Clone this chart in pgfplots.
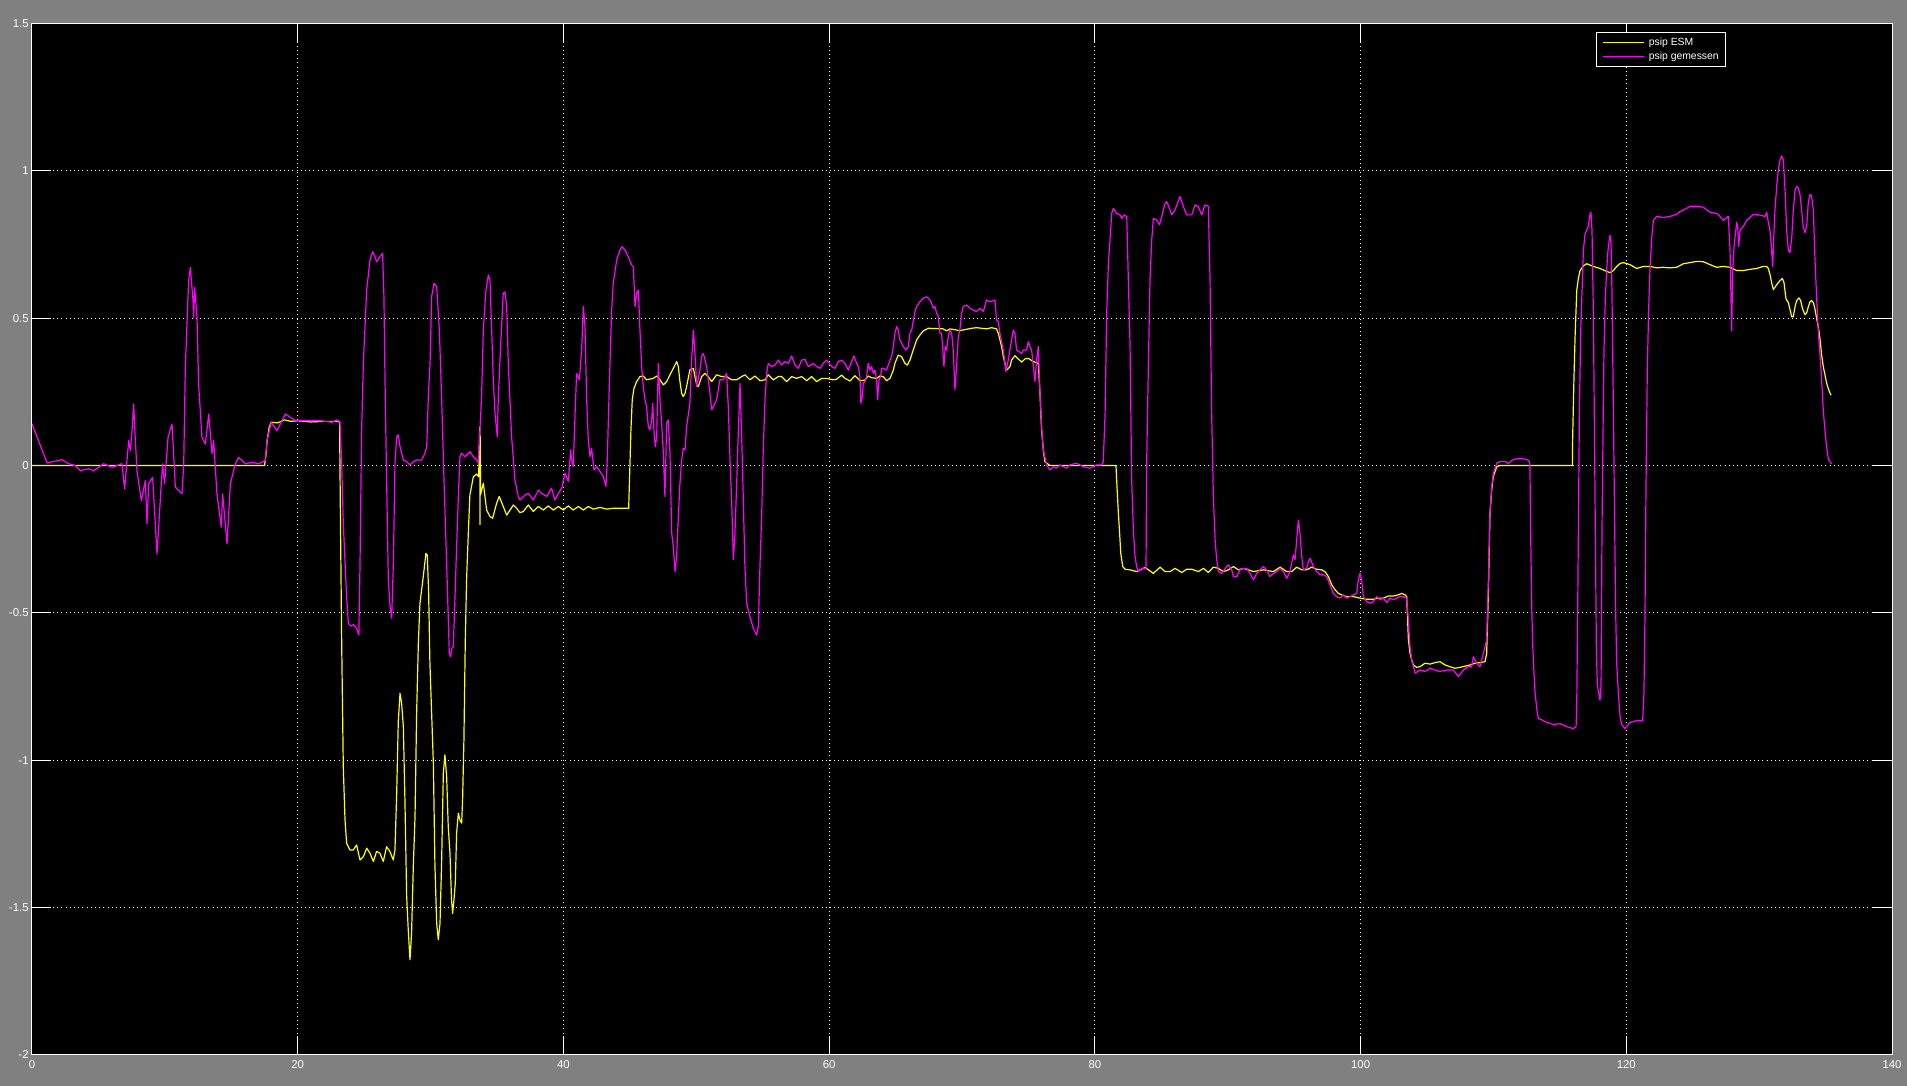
\documentclass[border=0pt]{standalone}
\usepackage{fontspec}
\setmainfont{Liberation Sans}
\usepackage{pgfplots}
\pgfplotsset{compat=1.18}
\definecolor{bg}{RGB}{128,128,128}
\definecolor{esm}{RGB}{255,255,0}
\definecolor{mes}{RGB}{255,0,255}
\begin{document}
\begin{tikzpicture}
\fill[bg] (0,0) rectangle (953.5pt,543pt);
\path[use as bounding box] (0,0) rectangle (953.5pt,543pt);
\begin{axis}[
  at={(16pt,15.65pt)}, anchor=south west,
  scale only axis, width=930pt, height=515.5pt,
  xmin=0, xmax=140, ymin=-2, ymax=1.5,
  axis background/.style={fill=black},
  axis line style={white, line width=0.5pt},
  xtick={0,20,40,60,80,100,120,140},
  ytick={-2,-1.5,-1,-0.5,0,0.5,1,1.5},
  xticklabels={0,20,40,60,80,100,120,140},
  yticklabels={-2,-1.5,-1,-0.5,0,0.5,1,1.5},
  tick align=inside, major tick length=9.5pt,
  tick style={white, line width=0.5pt},
  grid=major,
  major grid style={white, line width=0.5pt, dash pattern=on 0.5pt off 1.6pt},
  ticklabel style={text=white, font=\fontsize{5.7}{6.5}\selectfont, inner sep=0pt},
  xticklabel style={yshift=-2.6pt},
  yticklabel style={xshift=-1.5pt},
  legend cell align=left,
  legend style={at={(0.8407,0.9922)}, anchor=north west, draw=white, line width=0.5pt,
    fill=black, text=white, font=\fontsize{5.2}{6.2}\selectfont,
    inner xsep=3.3pt, inner ysep=2.6pt, row sep=2.2pt, column sep=2.2pt,
    nodes={inner sep=0pt, text height=3.8pt, text depth=1.1pt}},
  legend image code/.code={\draw[#1, line width=0.5pt] (0pt,0pt) -- (20.3pt,0pt);},
]
\addplot[esm, line width=0.6pt, line join=round] table {
x y
0 0
17.50 0
17.60 0.03
17.70 0.085
17.85 0.13
18.0 0.147
18.5 0.145
19.0 0.155
19.5 0.150
20.0 0.152
21.0 0.148
22.0 0.150
23.0 0.150
23.15 0.149
23.22 -0.2
23.31 -0.603
23.43 -1.022
23.56 -1.203
23.68 -1.282
23.93 -1.305
24.18 -1.305
24.43 -1.288
24.69 -1.339
24.94 -1.328
25.19 -1.299
25.44 -1.316
25.69 -1.344
25.94 -1.310
26.19 -1.316
26.44 -1.344
26.69 -1.294
26.94 -1.310
27.19 -1.339
27.32 -1.305
27.45 -1.112
27.57 -0.869
27.70 -0.773
27.82 -0.807
27.95 -0.886
28.07 -1.135
28.20 -1.463
28.32 -1.576
28.45 -1.678
28.57 -1.588
28.70 -1.361
28.83 -1.192
28.95 -0.841
29.08 -0.603
29.20 -0.468
29.45 -0.377
29.65 -0.298
29.75 -0.304
29.85 -0.422
29.95 -0.671
30.08 -0.841
30.21 -1.011
30.33 -1.361
30.46 -1.554
30.58 -1.610
30.71 -1.554
30.83 -1.350
30.96 -1.045
31.08 -0.982
31.21 -1.056
31.33 -1.226
31.46 -1.316
31.58 -1.475
31.66 -1.520
31.76 -1.475
31.86 -1.418
31.96 -1.248
32.09 -1.180
32.21 -1.203
32.34 -1.214
32.41 -1.135
32.51 -0.931
32.61 -0.603
32.71 -0.388
32.84 -0.230
32.96 -0.100
33.22 -0.038
33.47 -0.029
33.62 -0.038
33.70 0.13
33.72 -0.20
33.74 0.10
33.76 -0.10
33.97 -0.060
34.22 -0.151
34.47 -0.173
34.67 -0.179
34.97 -0.128
35.17 -0.105
35.47 -0.139
35.73 -0.168
35.98 -0.151
36.23 -0.134
36.48 -0.145
36.73 -0.160
36.98 -0.156
37.36 -0.134
37.73 -0.156
38.11 -0.139
38.49 -0.151
38.86 -0.137
39.24 -0.151
39.62 -0.139
39.99 -0.151
40.37 -0.137
40.74 -0.151
41.12 -0.139
41.50 -0.151
41.87 -0.139
42.25 -0.148
42.75 -0.142
43.25 -0.148
43.75 -0.145
44.91 -0.145
45.01 0.008
45.08 0.121
45.18 0.223
45.31 0.262
45.51 0.285
45.76 0.302
46.01 0.304
46.26 0.291
46.76 0.296
47.02 0.304
47.27 0.291
47.52 0.274
47.77 0.285
48.02 0.308
48.27 0.330
48.52 0.353
48.65 0.336
48.77 0.285
48.90 0.245
49.02 0.234
49.15 0.245
49.27 0.268
49.52 0.325
49.78 0.330
49.90 0.302
50.03 0.274
50.15 0.268
50.40 0.302
50.65 0.313
50.90 0.302
51.16 0.285
51.53 0.308
51.91 0.302
52.28 0.302
52.66 0.291
53.04 0.291
53.41 0.302
53.66 0.308
54.04 0.291
54.42 0.304
54.79 0.288
55.17 0.291
55.42 0.308
55.80 0.291
56.17 0.302
56.42 0.302
56.80 0.285
57.18 0.302
57.55 0.296
57.93 0.302
58.31 0.288
58.68 0.302
59.06 0.285
59.44 0.296
59.81 0.296
60.31 0.291
60.56 0.293
60.94 0.307
61.19 0.296
61.57 0.287
61.94 0.305
62.32 0.288
62.69 0.290
62.94 0.304
63.20 0.298
63.57 0.296
63.82 0.304
64.07 0.302
64.32 0.288
64.58 0.296
64.83 0.324
64.95 0.347
65.20 0.375
65.45 0.370
65.70 0.347
65.88 0.341
66.08 0.358
66.33 0.392
66.58 0.426
66.83 0.443
67.08 0.457
67.46 0.466
68.09 0.465
68.59 0.464
68.84 0.457
69.09 0.464
69.84 0.458
70.72 0.466
71.10 0.468
71.85 0.464
72.23 0.468
72.60 0.464
72.73 0.449
72.98 0.404
73.11 0.370
73.36 0.324
73.61 0.336
73.73 0.358
73.98 0.373
74.23 0.362
74.49 0.351
74.74 0.362
74.99 0.364
75.36 0.353
75.74 0.347
75.87 0.245
75.99 0.121
76.12 0.053
76.24 0.013
76.62 0.0
81.59 0.0
81.64 -0.049
81.77 -0.162
81.85 -0.219
81.95 -0.298
82.10 -0.343
82.27 -0.352
82.65 -0.354
83.15 -0.360
83.40 -0.354
83.78 -0.346
84.03 -0.354
84.40 -0.366
84.91 -0.345
85.28 -0.360
85.66 -0.360
86.03 -0.349
86.54 -0.363
86.91 -0.352
87.29 -0.352
87.79 -0.360
88.17 -0.349
88.54 -0.363
88.92 -0.345
89.30 -0.349
89.67 -0.360
90.05 -0.354
90.43 -0.343
90.80 -0.354
91.18 -0.349
91.55 -0.354
91.93 -0.360
92.68 -0.354
93.44 -0.360
93.94 -0.345
94.44 -0.360
94.82 -0.360
95.19 -0.345
95.57 -0.354
95.94 -0.354
96.32 -0.345
96.70 -0.352
97.07 -0.354
97.32 -0.360
97.58 -0.377
97.83 -0.405
98.08 -0.422
98.33 -0.434
98.58 -0.439
98.95 -0.445
99.46 -0.445
99.96 -0.450
100.46 -0.454
100.96 -0.454
101.34 -0.450
101.71 -0.450
102.09 -0.443
102.47 -0.443
102.84 -0.439
103.10 -0.434
103.35 -0.439
103.47 -0.445
103.60 -0.592
103.72 -0.637
103.85 -0.660
103.97 -0.677
104.22 -0.685
104.47 -0.683
104.85 -0.671
105.23 -0.674
105.60 -0.669
105.98 -0.666
106.36 -0.677
106.73 -0.683
107.11 -0.688
107.49 -0.685
107.86 -0.681
108.24 -0.677
108.61 -0.671
108.99 -0.669
109.37 -0.666
109.49 -0.637
109.62 -0.434
109.74 -0.162
109.87 -0.083
109.99 -0.037
110.25 -0.004
110.50 0.0
115.94 0.0
115.96 0.089
116.06 0.294
116.14 0.430
116.27 0.594
116.39 0.635
116.52 0.662
116.77 0.678
117.02 0.685
117.52 0.676
118.02 0.669
118.52 0.659
118.77 0.655
119.03 0.662
119.28 0.676
119.53 0.686
119.78 0.689
120.28 0.682
120.78 0.669
121.28 0.676
121.78 0.676
122.29 0.671
122.79 0.673
123.29 0.671
123.79 0.673
124.29 0.685
124.80 0.689
125.30 0.693
125.80 0.692
126.30 0.682
126.80 0.673
127.30 0.676
127.81 0.673
128.31 0.662
128.81 0.662
129.31 0.666
129.81 0.669
130.31 0.676
130.57 0.676
130.69 0.669
130.82 0.648
130.94 0.621
131.07 0.597
131.32 0.614
131.57 0.628
131.75 0.635
131.87 0.621
132.02 0.566
132.20 0.553
132.45 0.505
132.57 0.505
132.70 0.539
132.82 0.560
133.00 0.569
133.12 0.560
133.27 0.532
133.45 0.512
133.58 0.519
133.70 0.539
133.83 0.556
133.95 0.560
134.08 0.553
134.20 0.532
134.33 0.498
134.45 0.471
134.58 0.430
134.70 0.376
134.83 0.335
134.96 0.307
135.08 0.280
135.21 0.260
135.33 0.246
135.41 0.239
};
\addlegendentry{psip ESM}
\addplot[mes, line width=0.6pt, line join=round] table {
x y
0 0.142
1.13 0.009
2.26 0.02
2.76 0.006
3.26 0.0
3.64 -0.017
4.26 -0.011
4.64 -0.017
5.39 0.006
6.02 -0.006
6.77 0.006
6.97 -0.08
7.15 0.017
7.28 0.085
7.40 0.051
7.53 0.119
7.65 0.209
7.73 0.130
7.90 -0.017
8.23 -0.119
8.53 -0.051
8.66 -0.198
8.78 -0.062
9.08 -0.040
9.41 -0.300
9.73 -0.062
9.83 0.006
9.98 -0.062
10.24 0.096
10.54 0.141
10.79 -0.073
11.29 -0.096
11.42 0.006
11.54 0.334
11.79 0.628
11.92 0.673
12.12 0.560
12.17 0.503
12.24 0.605
12.42 0.503
12.54 0.277
12.79 0.096
13.05 0.073
13.30 0.175
13.55 0.040
13.67 0.085
13.92 -0.096
14.25 -0.209
14.35 -0.096
14.68 -0.266
14.93 -0.062
15.30 0.006
15.55 0.028
16.06 0.006
16.56 0.011
17.06 0.006
17.56 0.017
17.69 0.085
18.01 0.147
18.44 0.119
19.07 0.175
19.82 0.153
20.57 0.153
21.58 0.153
22.58 0.147
22.93 0.155
23.18 0.149
23.31 0.008
23.43 -0.196
23.68 -0.445
23.81 -0.535
24.0 -0.545
24.2 -0.54
24.4 -0.55
24.6 -0.575
24.69 -0.332
24.81 0.121
24.94 0.347
25.19 0.596
25.44 0.698
25.64 0.726
25.82 0.709
25.94 0.692
26.19 0.709
26.39 0.721
26.49 0.573
26.57 0.291
26.69 -0.049
26.82 -0.388
26.95 -0.479
27.07 -0.518
27.20 -0.332
27.32 0.008
27.45 0.098
27.57 0.104
27.70 0.064
27.95 0.019
28.20 0.013
28.45 0.002
28.70 0.013
28.95 0.019
29.33 0.019
29.58 0.042
29.71 0.064
29.83 0.234
29.96 0.347
30.08 0.573
30.26 0.619
30.46 0.607
30.66 0.460
30.83 0.234
31.01 -0.049
31.21 -0.332
31.41 -0.637
31.51 -0.649
31.61 -0.62
31.71 -0.615
31.84 -0.445
31.96 -0.275
32.09 -0.105
32.21 0.030
32.34 0.042
32.59 0.030
32.97 0.047
33.22 0.030
33.47 0.019
33.59 0.008
33.72 0.126
33.84 0.234
33.97 0.460
34.17 0.596
34.35 0.647
34.47 0.630
34.60 0.460
34.72 0.291
34.85 0.177
35.02 0.098
35.10 0.234
35.27 0.404
35.47 0.585
35.60 0.590
35.73 0.539
35.85 0.347
36.10 0.098
36.35 -0.049
36.60 -0.105
36.73 -0.117
37.11 -0.100
37.36 -0.094
37.73 -0.117
38.11 -0.083
38.36 -0.094
38.74 -0.105
39.11 -0.077
39.36 -0.117
39.62 -0.094
39.87 -0.077
40.12 -0.026
40.37 -0.054
40.54 0.053
40.62 0.019
40.74 -0.003
40.87 0.166
40.99 0.313
41.20 0.291
41.37 0.392
41.50 0.540
41.62 0.472
41.75 0.223
41.87 0.087
42.00 0.030
42.12 0.059
42.30 -0.015
42.50 -0.003
42.75 -0.020
43.00 -0.037
43.20 -0.071
43.30 0.019
43.45 0.268
43.63 0.528
43.75 0.619
44.01 0.698
44.26 0.732
44.41 0.743
44.63 0.732
44.88 0.709
45.13 0.681
45.26 0.675
45.39 0.540
45.51 0.585
45.64 0.596
45.76 0.460
45.89 0.336
46.01 0.268
46.14 0.223
46.26 0.200
46.39 0.132
46.51 0.121
46.64 0.155
46.72 0.211
46.82 0.110
46.92 0.064
47.02 0.098
47.14 0.347
47.27 0.223
47.39 0.144
47.52 0.042
47.64 -0.105
47.77 0.144
47.89 0.155
48.02 0.042
48.15 -0.230
48.27 -0.275
48.40 -0.360
48.52 -0.309
48.65 -0.173
48.77 -0.060
48.90 0.019
49.02 0.059
49.15 0.053
49.27 0.132
49.52 0.211
49.65 0.358
49.78 0.460
49.90 0.381
50.03 0.268
50.28 0.325
50.40 0.370
50.53 0.381
50.78 0.336
51.03 0.245
51.16 0.189
51.28 0.200
51.53 0.223
51.78 0.291
52.03 0.291
52.28 0.313
52.41 0.200
52.54 0.019
52.66 -0.117
52.79 -0.320
52.91 -0.230
53.04 -0.060
53.16 0.110
53.29 0.279
53.41 0.110
53.54 -0.117
53.66 -0.343
53.79 -0.467
54.04 -0.513
54.29 -0.552
54.54 -0.575
54.67 -0.547
54.79 -0.343
54.92 -0.173
55.04 0.053
55.17 0.223
55.30 0.313
55.42 0.347
55.67 0.336
55.92 0.341
56.17 0.358
56.42 0.341
56.67 0.353
56.93 0.347
57.18 0.372
57.43 0.341
57.68 0.330
57.93 0.358
58.18 0.361
58.43 0.336
58.81 0.347
59.06 0.336
59.31 0.330
59.56 0.347
59.81 0.358
60.19 0.336
60.44 0.330
60.69 0.353
60.94 0.358
61.19 0.347
61.44 0.324
61.69 0.353
61.87 0.372
62.07 0.347
62.19 0.336
62.32 0.302
62.39 0.211
62.49 0.234
62.57 0.279
62.69 0.285
62.82 0.302
62.94 0.347
63.07 0.324
63.20 0.336
63.32 0.313
63.45 0.324
63.57 0.291
63.65 0.223
63.75 0.291
63.87 0.302
63.95 0.330
64.07 0.330
64.32 0.324
64.58 0.358
64.70 0.370
64.83 0.404
64.95 0.449
65.08 0.472
65.20 0.460
65.33 0.426
65.58 0.404
65.78 0.392
65.96 0.404
66.08 0.449
66.21 0.460
66.33 0.489
66.46 0.522
66.58 0.540
66.83 0.556
67.08 0.568
67.34 0.573
67.59 0.562
67.71 0.551
67.84 0.534
67.96 0.540
68.09 0.517
68.21 0.506
68.34 0.449
68.46 0.449
68.54 0.404
68.64 0.336
68.74 0.404
68.84 0.392
68.97 0.438
69.09 0.460
69.22 0.449
69.34 0.392
69.47 0.257
69.59 0.336
69.72 0.438
69.84 0.460
69.97 0.517
70.09 0.540
70.35 0.545
70.60 0.534
70.85 0.528
71.10 0.523
71.35 0.534
71.60 0.523
71.85 0.562
72.10 0.556
72.35 0.560
72.48 0.562
72.60 0.494
72.73 0.489
72.85 0.449
73.11 0.392
73.31 0.319
73.48 0.358
73.73 0.426
73.86 0.460
73.98 0.449
74.11 0.392
74.49 0.381
74.61 0.392
74.86 0.392
74.99 0.421
75.11 0.404
75.24 0.392
75.36 0.341
75.49 0.285
75.61 0.358
75.74 0.404
75.87 0.245
75.99 0.132
76.12 0.053
76.37 0.002
76.62 -0.015
76.87 -0.004
77.12 -0.009
77.37 0.002
77.62 -0.004
77.87 -0.009
78.12 0.002
78.62 0.008
79.13 -0.004
79.63 -0.009
80.13 0.002
80.51 0.002
80.63 0.013
80.77 0.177
80.89 0.517
81.02 0.687
81.14 0.766
81.27 0.856
81.39 0.873
81.64 0.856
81.90 0.851
82.02 0.839
82.20 0.851
82.40 0.845
82.52 0.630
82.65 0.404
82.77 -0.049
82.90 -0.219
83.02 -0.309
83.15 -0.343
83.28 -0.360
83.53 -0.349
83.85 -0.349
83.90 0.008
84.03 0.347
84.15 0.630
84.28 0.766
84.40 0.839
84.65 0.834
84.86 0.817
85.03 0.845
85.28 0.890
85.41 0.896
85.66 0.868
85.78 0.851
86.03 0.868
86.41 0.913
86.66 0.879
86.91 0.851
87.29 0.851
87.54 0.885
87.79 0.879
88.04 0.851
88.29 0.885
88.54 0.881
88.67 0.630
88.79 0.177
88.92 -0.105
89.05 -0.252
89.17 -0.320
89.30 -0.360
89.55 -0.366
89.92 -0.343
90.05 -0.337
90.30 -0.354
90.43 -0.377
90.68 -0.377
90.93 -0.354
91.18 -0.349
91.43 -0.349
91.68 -0.366
91.93 -0.388
92.18 -0.366
92.43 -0.354
92.68 -0.343
92.93 -0.354
93.18 -0.377
93.44 -0.366
93.69 -0.360
93.94 -0.349
94.19 -0.360
94.44 -0.383
94.69 -0.360
94.94 -0.303
95.07 -0.320
95.19 -0.252
95.32 -0.185
95.44 -0.230
95.57 -0.309
95.69 -0.354
95.94 -0.349
96.07 -0.326
96.20 -0.315
96.45 -0.343
96.70 -0.360
96.95 -0.371
97.20 -0.371
97.45 -0.377
97.70 -0.405
97.95 -0.434
98.20 -0.445
98.45 -0.450
98.70 -0.439
98.95 -0.450
99.21 -0.445
99.46 -0.439
99.71 -0.434
99.83 -0.388
99.96 -0.366
100.08 -0.388
100.21 -0.445
100.46 -0.462
100.71 -0.467
100.96 -0.462
101.21 -0.445
101.46 -0.456
101.71 -0.450
101.97 -0.465
102.22 -0.450
102.47 -0.456
102.72 -0.450
102.97 -0.445
103.22 -0.445
103.47 -0.450
103.60 -0.524
103.72 -0.615
103.85 -0.660
104.10 -0.705
104.47 -0.694
104.85 -0.699
105.23 -0.688
105.60 -0.694
105.98 -0.699
106.48 -0.694
106.98 -0.694
107.36 -0.716
107.74 -0.694
108.11 -0.683
108.36 -0.683
108.49 -0.649
108.74 -0.671
108.99 -0.683
109.12 -0.660
109.37 -0.615
109.49 -0.592
109.62 -0.388
109.74 -0.162
109.87 -0.071
109.99 -0.026
110.25 0.008
110.50 0.014
110.87 0.014
111.12 0.007
111.50 0.021
112.00 0.024
112.50 0.021
112.70 0.014
112.75 -0.006
112.80 -0.224
112.88 -0.470
112.95 -0.606
113.05 -0.702
113.13 -0.770
113.26 -0.825
113.38 -0.859
113.63 -0.863
114.01 -0.872
114.51 -0.879
115.01 -0.876
115.51 -0.886
116.01 -0.893
116.22 -0.886
116.27 -0.811
116.34 -0.497
116.42 -0.088
116.47 0.185
116.57 0.457
116.67 0.594
116.77 0.730
116.89 0.785
117.14 0.812
117.27 0.853
117.34 0.860
117.42 0.798
117.52 0.526
117.59 0.185
117.67 -0.224
117.75 -0.634
117.82 -0.743
118.02 -0.797
118.10 -0.743
118.17 -0.224
118.25 0.116
118.32 0.389
118.42 0.566
118.52 0.662
118.62 0.730
118.77 0.782
118.85 0.757
118.92 0.594
119.03 0.185
119.13 -0.224
119.20 -0.497
119.28 -0.674
119.40 -0.770
119.53 -0.852
119.65 -0.879
119.90 -0.893
120.28 -0.872
120.78 -0.866
121.23 -0.866
121.33 -0.770
121.41 -0.497
121.48 -0.088
121.58 0.321
121.68 0.526
121.78 0.662
121.91 0.771
122.04 0.832
122.29 0.846
122.79 0.842
123.29 0.846
123.79 0.853
124.04 0.862
124.54 0.873
124.80 0.880
125.30 0.880
125.80 0.877
126.30 0.860
126.80 0.856
127.05 0.846
127.30 0.832
127.68 0.846
127.81 0.730
127.93 0.457
128.01 0.662
128.11 0.744
128.21 0.785
128.31 0.826
128.38 0.812
128.46 0.744
128.56 0.798
128.81 0.812
129.06 0.832
129.56 0.853
130.06 0.850
130.44 0.846
130.57 0.860
130.69 0.826
130.82 0.798
130.94 0.730
131.02 0.676
131.12 0.798
131.19 0.866
131.32 0.948
131.44 1.003
131.57 1.037
131.69 1.051
131.82 1.037
131.95 0.935
132.07 0.798
132.20 0.730
132.32 0.723
132.45 0.771
132.57 0.866
132.70 0.935
132.82 0.948
132.95 0.942
133.07 0.921
133.20 0.866
133.32 0.812
133.45 0.791
133.58 0.812
133.70 0.894
133.83 0.921
133.95 0.914
134.08 0.866
134.20 0.703
134.33 0.566
134.45 0.457
134.58 0.376
134.70 0.294
134.83 0.185
134.96 0.117
135.08 0.062
135.21 0.021
135.46 0.005
};
\addlegendentry{psip gemessen}
\end{axis}
\end{tikzpicture}
\end{document}
